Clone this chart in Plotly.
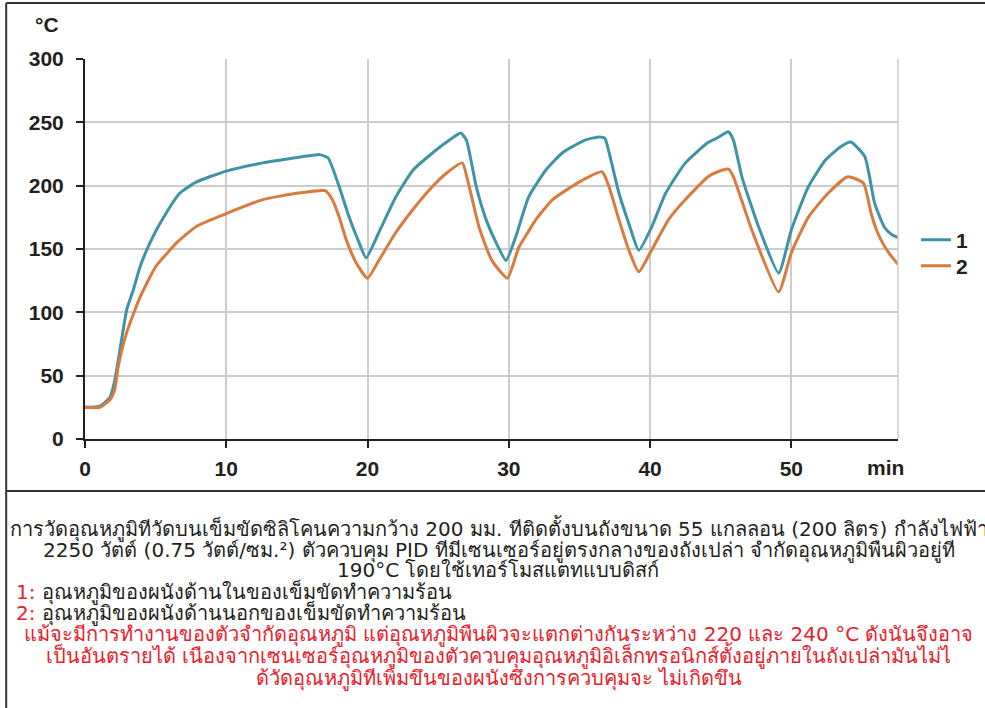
import plotly.graph_objects as go

# ---- data (minutes, °C) ----
t1 = [0, 1.06, 1.77, 2.1, 2.47, 2.95, 3.4, 3.9, 4.36, 4.8, 5.3, 6.7, 7.9, 10.0, 12.6, 16.1, 16.6, 17.2, 18.0,
      18.7, 19.4, 19.9, 20.8, 22.0, 23.2, 24.4, 25.8, 26.6, 27.0, 27.7, 28.4, 29.1, 29.8, 30.5,
      31.4, 32.6, 33.8, 35.4, 36.4, 36.8, 37.1, 37.8, 38.5, 39.2, 40.1, 41.1, 42.5, 44.1, 44.8,
      45.55, 45.9, 46.5, 47.7, 49.1, 50.0, 51.2, 52.4, 53.4, 54.2, 55.2, 55.9, 56.6, 57.1, 57.55]
s1 = [25, 26, 33, 46, 70, 102, 117, 136, 149, 159.5, 170, 194, 203, 211.5, 218, 224, 224.5, 222, 199,
      175, 155, 143, 163, 191, 212, 224, 236, 241.5, 236, 199, 173, 155, 141, 160,
      191, 212, 226, 236, 238.5, 237.5, 226, 194, 170, 149, 167, 194, 218, 234, 238,
      242.5, 236, 207, 167, 131, 165, 199, 220, 230, 234.5, 223, 186, 167, 161.5, 159]

t2 = [0, 1.06, 1.77, 2.1, 2.35, 2.95, 3.9, 5.0, 6.0, 6.5, 7.9, 10.0, 12.6, 15.0, 17.0, 17.5, 18.0,
      18.5, 19.2, 20.0, 20.8, 22.0, 23.2, 24.4, 25.6, 26.7, 27.2, 27.9, 28.8, 29.9, 30.7,
      31.4, 31.9, 33.1, 35.0, 36.6, 37.1, 37.8, 38.5, 39.2, 40.1, 41.3, 42.5, 44.1, 44.8,
      45.55, 45.9, 47.2, 49.1, 50.0, 51.2, 52.6, 54.0, 55.1, 55.65, 56.1, 56.6, 57.1, 57.55]
s2 = [25, 25, 31, 39, 57, 84, 112, 136, 149, 155, 168, 178, 189, 194, 196, 189, 175,
      157, 139, 127, 141, 163, 181, 197, 210, 218, 199, 167, 141, 127, 151,
      164, 173, 189, 203, 211, 199, 173, 149, 132, 149, 173, 189, 207, 211,
      213, 207, 165, 116, 147, 175, 194, 207, 202, 178, 163, 152, 144, 138]

names = ["1", "2"]
colors = ["#3e94a6", "#d97a3e"]
xticks = [0, 10, 20, 30, 40, 50]
yticks = [0, 50, 100, 150, 200, 250, 300]

black_lines = [
    "การวัดอุณหภูมิทีวัดบนเข็มขัดซิลิโคนความกว้าง 200 มม. ทีติดตั้งบนถังขนาด 55 แกลลอน (200 ลิตร) กำลังไฟฟ้า",
    "2250 วัตต์ (0.75 วัตต์/ซม.²) ตัวควบคุม PID ทีมีเซนเซอร์อยู่ตรงกลางของถังเปล่า จำกัดอุณหภูมิพืนผิวอยู่ที",
    "190°C โดยใช้เทอร์โมสแตทแบบดิสก์",
]
item_lines = [
    "<span style='color:#e8202a'>1:</span> อุณหภูมิของผนังด้านในของเข็มขัดทำความร้อน",
    "<span style='color:#e8202a'>2:</span> อุณหภูมิของผนังด้านนอกของเข็มขัดทำความร้อน",
]
red_lines = [
    "แม้จะมีการทำงานของตัวจำกัดอุณหภูมิ แต่อุณหภูมิพืนผิวจะแตกต่างกันระหว่าง 220 และ 240 °C ดังนันจึงอาจ",
    "เป็นอันตรายได้ เนืองจากเซนเซอร์อุณหภูมิของตัวควบคุมอุณหภูมิอิเล็กทรอนิกส์ตั้งอยู่ภายในถังเปล่ามันไม่ไ",
    "ด้วัดอุณหภูมิทีเพิ่มขึนของผนังซึงการควบคุมจะ ไม่เกิดขึน",
]

W, H = 985, 708
L, R, T, B = 85, 900, 59, 439

def px_x(p):
    return (p - L) / (R - L)

def px_y(p):
    return (B - p) / (B - T)

fig = go.Figure()
for i, (t, s) in enumerate([(t1, s1), (t2, s2)]):
    fig.add_trace(go.Scatter(x=t, y=s, mode="lines", name=names[i],
                             line=dict(color=colors[i], width=3, shape="spline", smoothing=0.5),
                             legend="legend" if i == 0 else "legend2"))

leg_font = dict(family="Liberation Sans, Arial", size=21, color="#231f20", weight="bold")
axis_font = dict(family="Liberation Sans, Arial", size=21, color="#231f20", weight="bold")
fig.update_layout(
    width=W, height=H,
    margin=dict(l=L, r=W - R, t=T, b=H - B),
    paper_bgcolor="white", plot_bgcolor="white",
    showlegend=True,
    legend=dict(x=px_x(918), y=px_y(240), xanchor="left", yanchor="middle",
                font=leg_font, itemwidth=30, bgcolor="rgba(0,0,0,0)"),
    legend2=dict(x=px_x(918), y=px_y(266), xanchor="left", yanchor="middle",
                 font=leg_font, itemwidth=30, bgcolor="rgba(0,0,0,0)"),
    xaxis=dict(range=[0, 57.55], tickvals=xticks, showgrid=True, gridcolor="#cccccc", gridwidth=1.5,
               zeroline=False, showline=True, linecolor="#231f20", linewidth=2,
               ticks="outside", ticklen=7, tickwidth=2, tickcolor="#231f20",
               tickfont=axis_font, ticklabelstandoff=3),
    yaxis=dict(range=[0, 300], tickvals=yticks, showgrid=True, gridcolor="#cccccc", gridwidth=1.5,
               zeroline=False, showline=True, linecolor="#231f20", linewidth=2,
               ticks="outside", ticklen=7, tickwidth=2, tickcolor="#231f20",
               tickfont=axis_font, ticklabelstandoff=8),
)

# right border of plot area (gray)
fig.add_shape(type="line", xref="paper", yref="paper", x0=1, x1=1, y0=0, y1=1,
              line=dict(color="#cccccc", width=1.5))

# outer frame and divider
frame = dict(color="#333333", width=2)
fig.add_shape(type="line", xref="paper", yref="paper", x0=px_x(6), x1=px_x(6), y0=px_y(3), y1=px_y(710), line=frame)
fig.add_shape(type="line", xref="paper", yref="paper", x0=px_x(6), x1=px_x(990), y0=px_y(3), y1=px_y(3), line=frame)
fig.add_shape(type="line", xref="paper", yref="paper", x0=px_x(6), x1=px_x(990), y0=px_y(491), y1=px_y(491), line=frame)

fig.add_annotation(text="°C", xref="paper", yref="paper", x=px_x(47), y=px_y(25),
                   showarrow=False, font=axis_font, xanchor="center", yanchor="middle")
fig.add_annotation(text="min", xref="paper", yref="paper", x=px_x(887), y=px_y(467),
                   showarrow=False, font=axis_font, xanchor="center", yanchor="middle")

txt_font = dict(family="DejaVu Sans", size=20, color="#231f20")
red_font = dict(family="DejaVu Sans", size=20, color="#e8202a")
for line, yc in zip(black_lines, [528, 550, 570]):
    fig.add_annotation(text=line, xref="paper", yref="paper", x=px_x(500), y=px_y(yc),
                       showarrow=False, font=txt_font, xanchor="center", yanchor="middle")
for line, yc in zip(item_lines, [592, 613]):
    fig.add_annotation(text=line, xref="paper", yref="paper", x=px_x(14), y=px_y(yc),
                       showarrow=False, font=txt_font, xanchor="left", yanchor="middle")
for line, yc in zip(red_lines, [634, 655, 677]):
    fig.add_annotation(text=line, xref="paper", yref="paper", x=px_x(500), y=px_y(yc),
                       showarrow=False, font=red_font, xanchor="center", yanchor="middle")

fig.write_html("out.html")
